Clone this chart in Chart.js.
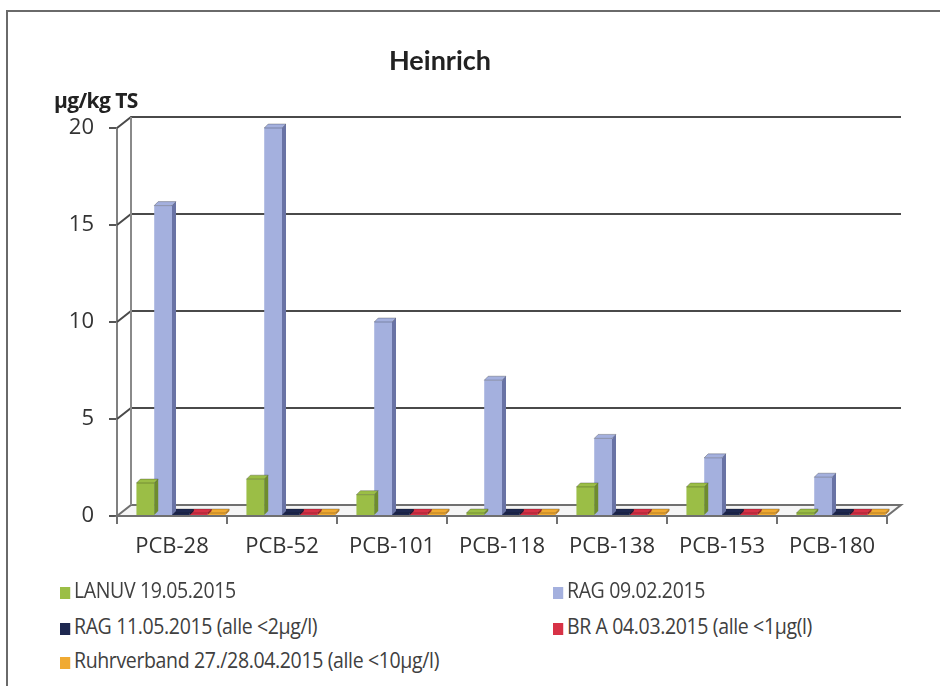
<!DOCTYPE html>
<html>
<head>
<meta charset="utf-8">
<script src="https://cdn.jsdelivr.net/npm/chart.js@4"></script>
<style>
  body { margin: 0; background: #fff; }
  #frame { position: absolute; left: 6px; top: 10px; width: 940px; height: 690px;
           border-left: 2px solid #6a6a6a; border-top: 2px solid #6a6a6a; }
  #wrap { position: absolute; left: 0; top: 0; width: 940px; height: 580px; }
  #title { position: absolute; left: 0; width: 880px; top: 43px; text-align: center;
           font: bold 27px Lato, "Open Sans", sans-serif; color: #222; }
  #unit { position: absolute; left: 54px; top: 86px;
          font: bold 21px "Open Sans", sans-serif; color: #222; letter-spacing: -0.6px; }
  .leg { position: absolute; font: 21px "Open Sans", sans-serif; color: #404040; line-height: 28px;
         white-space: nowrap; transform: scaleX(0.93); transform-origin: left center; letter-spacing: -0.4px; }
  .leg span { display: inline-block; width: 11px; height: 12px; margin-right: 4px; vertical-align: -1px; }
</style>
</head>
<body>
<div id="frame"></div>
<div id="wrap"><canvas id="myChart" width="940" height="580"></canvas></div>
<div id="title">Heinrich</div>
<div id="unit">µg/kg TS</div>
<div id="legend"></div>
<script>
// setup
const labels = ['PCB-28', 'PCB-52', 'PCB-101', 'PCB-118', 'PCB-138', 'PCB-153', 'PCB-180'];
const lanuv = [1.7, 1.9, 1.1, 0.05, 1.5, 1.5, 0.05];
const rag0902 = [16, 20, 10, 7, 4, 3, 2];
const rag1105 = [0, 0, 0, 0, 0, 0, 0];
const bra0403 = [0, 0, 0, 0, 0, 0, 0];
const ruhrverband = [0, 0, 0, 0, 0, 0, 0];
const yTicks = [0, 5, 10, 15, 20];

const series = [
  { label: 'LANUV 19.05.2015', data: lanuv, color: 'rgb(155, 190, 70)', side: 'rgb(110, 140, 45)' },
  { label: 'RAG 09.02.2015', data: rag0902, color: 'rgb(164, 176, 222)', side: 'rgb(105, 115, 165)' },
  { label: 'RAG 11.05.2015 (alle <2µg/l)', data: rag1105, color: 'rgb(30, 40, 80)', side: 'rgb(20, 25, 55)' },
  { label: 'BR A 04.03.2015 (alle <1µg(l)', data: bra0403, color: 'rgb(215, 50, 70)', side: 'rgb(160, 30, 45)' },
  { label: 'Ruhrverband 27./28.04.2015 (alle <10µg/l)', data: ruhrverband, color: 'rgb(240, 170, 50)', side: 'rgb(190, 125, 30)' },
];

// an empty leading slot pushes the group to the right, like the 3D depth in the original
const spacer = {
  label: '',
  data: labels.map(() => null),
  backgroundColor: 'rgba(0,0,0,0)',
  categoryPercentage: 0.97,
  barPercentage: 1.0,
};

const data = {
  labels: labels,
  datasets: [spacer].concat(series.map(s => ({
    label: s.label,
    data: s.data,
    backgroundColor: s.color,
    sideColor: s.side,
    borderWidth: 0,
    minBarLength: 3,
    categoryPercentage: 0.97,
    barPercentage: 1.0,
  })))
};

// back wall, floor and gridlines
const DX = 14, DY = -11;
const wall3d = {
  id: 'wall3d',
  beforeDatasetsDraw(chart) {
    const ctx = chart.ctx, a = chart.chartArea, y = chart.scales.y;
    const y0 = y.getPixelForValue(0);
    ctx.save();
    // floor
    ctx.beginPath();
    ctx.moveTo(a.left, y0);
    ctx.lineTo(a.right, y0);
    ctx.lineTo(a.right + DX, y0 + DY);
    ctx.lineTo(a.left + DX, y0 + DY);
    ctx.closePath();
    ctx.fillStyle = '#f5f5f5';
    ctx.fill();
    ctx.strokeStyle = '#707070';
    ctx.lineWidth = 2;
    ctx.stroke();
    // gridlines on back wall
    ctx.strokeStyle = '#4a4a4a';
    yTicks.slice(1).forEach(v => {
      const p = y.getPixelForValue(v);
      ctx.beginPath();
      ctx.moveTo(a.left, p);
      ctx.lineTo(a.left + DX, p + DY);
      ctx.lineTo(a.right + DX, p + DY);
      ctx.stroke();
    });
    // back wall left edge
    ctx.strokeStyle = '#8a8a8a';
    ctx.beginPath();
    ctx.moveTo(a.left + DX, y.getPixelForValue(20) + DY);
    ctx.lineTo(a.left + DX, y0 + DY);
    ctx.stroke();
    ctx.restore();
  },
  afterDatasetDraw(chart, args) {
    const ctx = chart.ctx;
    const ds = chart.data.datasets[args.index];
    if (!ds.sideColor) return;
    const d = 4;
    ctx.save();
    args.meta.data.forEach(bar => {
      if (isNaN(bar.y) || isNaN(bar.base)) return;
      const l = bar.x - bar.width / 2, r = bar.x + bar.width / 2;
      const top = bar.y, base = bar.base;
      // side face
      ctx.fillStyle = ds.sideColor;
      ctx.beginPath();
      ctx.moveTo(r, top);
      ctx.lineTo(r + d, top - d);
      ctx.lineTo(r + d, base - d);
      ctx.lineTo(r, base);
      ctx.closePath();
      ctx.fill();
      // top face
      ctx.fillStyle = ds.backgroundColor;
      ctx.beginPath();
      ctx.moveTo(l, top);
      ctx.lineTo(l + d, top - d);
      ctx.lineTo(r + d, top - d);
      ctx.lineTo(r, top);
      ctx.closePath();
      ctx.fill();
      ctx.strokeStyle = 'rgba(0,0,0,0.25)';
      ctx.lineWidth = 1;
      ctx.stroke();
    });
    ctx.restore();
  }
};

// config
const config = {
  type: 'bar',
  data,
  options: {
    responsive: false,
    animation: false,
    layout: { padding: { left: 0, right: 53, top: 128, bottom: 0 } },
    scales: {
      x: {
        afterFit(scale) { scale.height = 64; },
        grid: { display: true, drawOnChartArea: false, offset: true, tickLength: 8, color: '#707070', lineWidth: 2 },
        border: { display: false },
        ticks: { color: '#333', font: { family: 'Open Sans', size: 22 }, padding: 10 }
      },
      y: {
        min: 0,
        max: 20,
        afterFit(scale) { scale.width = 117; },
        afterBuildTicks(scale) { scale.ticks = yTicks.map(v => ({ value: v })); },
        grid: { display: true, drawOnChartArea: false, tickLength: 8, color: '#555', lineWidth: 2 },
        border: { display: true, color: '#808080', width: 2 },
        ticks: { color: '#333', font: { family: 'Open Sans', size: 22 }, padding: 15 }
      }
    },
    plugins: {
      legend: { display: false },
      title: { display: false },
      tooltip: { enabled: false }
    }
  },
  plugins: [wall3d]
};

// render init block
const myChart = new Chart(document.getElementById('myChart'), config);

// legend in two columns
const legendPos = [[60, 576], [553, 576], [60, 612], [553, 612], [60, 646]];
const legendEl = document.getElementById('legend');
series.forEach((s, i) => {
  const div = document.createElement('div');
  div.className = 'leg';
  div.style.left = legendPos[i][0] + 'px';
  div.style.top = legendPos[i][1] + 'px';
  div.innerHTML = '<span style="background:' + s.color + '"></span>' + s.label;
  legendEl.appendChild(div);
});
</script>
</body>
</html>
